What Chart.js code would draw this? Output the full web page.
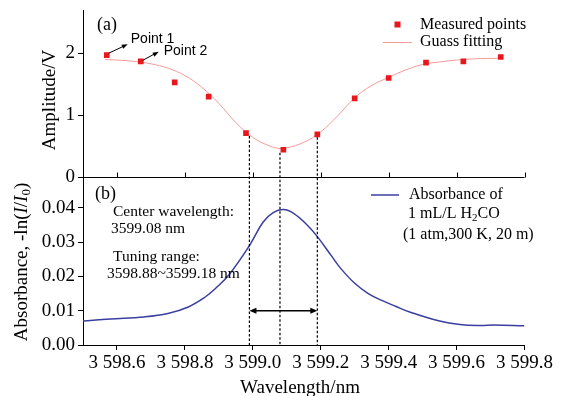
<!DOCTYPE html>
<html>
<head>
<meta charset="utf-8">
<script src="https://cdn.jsdelivr.net/npm/chart.js@4.4.0/dist/chart.umd.min.js"></script>
<style>
  html, body { margin: 0; padding: 0; background: #fff; }
</style>
</head>
<body>
<canvas id="chart" width="566" height="396"></canvas>
<script>
// (a) measured amplitude points
var measX = [3598.57, 3598.67, 3598.77, 3598.87, 3598.98, 3599.09, 3599.19, 3599.30, 3599.40, 3599.51, 3599.62, 3599.73];
var measAmp = [1.97, 1.87, 1.53, 1.30, 0.71, 0.44, 0.69, 1.27, 1.60, 1.85, 1.87, 1.94];

// (a) gauss fitting curve
var fitX = [3598.565, 3598.60, 3598.65, 3598.70, 3598.75, 3598.80, 3598.85, 3598.90, 3598.95, 3599.00, 3599.05, 3599.08, 3599.10, 3599.15, 3599.20, 3599.25, 3599.30, 3599.35, 3599.40, 3599.45, 3599.50, 3599.55, 3599.60, 3599.65, 3599.73];
var fitAmp = [1.90, 1.89, 1.87, 1.83, 1.76, 1.64, 1.45, 1.19, 0.88, 0.64, 0.50, 0.46, 0.47, 0.56, 0.73, 0.99, 1.28, 1.48, 1.61, 1.73, 1.82, 1.86, 1.89, 1.91, 1.92];

// (b) absorbance of H2CO
var absX = [3598.50, 3598.58, 3598.68, 3598.75, 3598.81, 3598.86, 3598.89, 3598.93, 3598.99, 3599.03, 3599.06, 3599.09, 3599.12, 3599.16, 3599.19, 3599.23, 3599.26, 3599.30, 3599.34, 3599.38, 3599.42, 3599.46, 3599.55, 3599.61, 3599.67, 3599.71, 3599.80];
var absVal = [0.0070, 0.0076, 0.0082, 0.0092, 0.0111, 0.0140, 0.0165, 0.0205, 0.0290, 0.0358, 0.0386, 0.0395, 0.0384, 0.0350, 0.0316, 0.0262, 0.0222, 0.0180, 0.0150, 0.0130, 0.0113, 0.0097, 0.0070, 0.0060, 0.0057, 0.0058, 0.0056];

// guide lines and tuning range arrow
var guideX = [3598.99, 3599.08, 3599.19];
var guideAmp = [0.71, 0.44, 0.69];
var rangeArrow = [3598.99, 3599.19];
var arrowLevel = 0.01;

// ticks
var xTicks = [3598.6, 3598.8, 3599.0, 3599.2, 3599.4, 3599.6, 3599.8];
var xTickLabels = ['3 598.6', '3 598.8', '3 599.0', '3 599.2', '3 599.4', '3 599.6', '3 599.8'];
var ampTicks = [0, 1, 2];
var ampTickLabels = ['0', '1', '2'];
var absTicks = [0, 0.01, 0.02, 0.03, 0.04];
var absTickLabels = ['0.00', '0.01', '0.02', '0.03', '0.04'];

var SERIF = "'Liberation Serif', 'Times New Roman', serif";
var SANS = "'Liberation Sans', Arial, sans-serif";

function pts(xs, ys) {
  return xs.map(function(x, i) { return {x: x, y: ys[i]}; });
}

function fixTicks(list) {
  return function(scale) {
    scale.ticks = list.map(function(v) { return {value: v}; });
  };
}

// text made of runs: [text, style] where style is '', 'i' or 'sub'
function drawRuns(ctx, runs, x, y, size, align) {
  var total = 0;
  runs.forEach(function(r) {
    ctx.font = fontOf(r[1], size);
    r.w = ctx.measureText(r[0]).width;
    total += r.w;
  });
  var cx = align === 'center' ? x - total / 2 : x;
  runs.forEach(function(r) {
    ctx.font = fontOf(r[1], size);
    ctx.fillText(r[0], cx, r[1] === 'sub' ? y + size * 0.25 : y);
    cx += r.w;
  });
}
function fontOf(style, size) {
  if (style === 'i') return 'italic ' + size + 'px ' + SERIF;
  if (style === 'sub') return Math.round(size * 0.68) + 'px ' + SERIF;
  return size + 'px ' + SERIF;
}

function arrowHead(ctx, x, y, dx, dy, len, half) {
  var l = Math.sqrt(dx * dx + dy * dy), ux = dx / l, uy = dy / l;
  ctx.beginPath();
  ctx.moveTo(x, y);
  ctx.lineTo(x - ux * len - uy * half, y - uy * len + ux * half);
  ctx.lineTo(x - ux * len + uy * half, y - uy * len - ux * half);
  ctx.closePath();
  ctx.fill();
}

var decor = {
  id: 'decor',
  afterDraw: function(chart) {
    var ctx = chart.ctx, xs = chart.scales.x, ya = chart.scales.yA, yb = chart.scales.yB;
    var area = chart.chartArea;
    ctx.save();
    ctx.strokeStyle = '#000';
    ctx.fillStyle = '#000';

    // bottom line of panel (a) with inward ticks
    var y0 = Math.round(ya.getPixelForValue(0)) + 0.5;
    ctx.lineWidth = 1;
    ctx.beginPath();
    ctx.moveTo(area.left, y0);
    ctx.lineTo(area.right, y0);
    xTicks.forEach(function(v) {
      var px = Math.round(xs.getPixelForValue(v)) + 0.5;
      ctx.moveTo(px, y0);
      ctx.lineTo(px, y0 - 5);
    });
    ctx.stroke();

    // dashed guides
    ctx.setLineDash([2.5, 2]);
    ctx.lineWidth = 1.2;
    guideX.forEach(function(v, i) {
      var px = xs.getPixelForValue(v);
      ctx.beginPath();
      ctx.moveTo(px, ya.getPixelForValue(guideAmp[i]) + 3);
      ctx.lineTo(px, yb.getPixelForValue(0));
      ctx.stroke();
    });
    ctx.setLineDash([]);

    // tuning range arrow
    var ay = yb.getPixelForValue(arrowLevel);
    var ax1 = xs.getPixelForValue(rangeArrow[0]), ax2 = xs.getPixelForValue(rangeArrow[1]);
    ctx.lineWidth = 1.5;
    ctx.beginPath();
    ctx.moveTo(ax1 + 4, ay);
    ctx.lineTo(ax2 - 4, ay);
    ctx.stroke();
    arrowHead(ctx, ax1, ay, -1, 0, 7, 3);
    arrowHead(ctx, ax2, ay, 1, 0, 7, 3);

    // Point 1 / Point 2 labels
    ctx.lineWidth = 1;
    var p1x = xs.getPixelForValue(measX[0]), p1y = ya.getPixelForValue(measAmp[0]);
    var p2x = xs.getPixelForValue(measX[1]), p2y = ya.getPixelForValue(measAmp[1]);
    ctx.beginPath();
    ctx.moveTo(p1x + 2, p1y - 2);
    ctx.lineTo(p1x + 17, p1y - 9);
    ctx.moveTo(p2x + 2, p2y - 1);
    ctx.lineTo(p2x + 14, p2y - 7.5);
    ctx.stroke();
    arrowHead(ctx, p1x + 21, p1y - 11, 15, -7, 6, 2.2);
    arrowHead(ctx, p2x + 18, p2y - 9.5, 12, -6.5, 6, 2.2);
    ctx.textBaseline = 'middle';
    ctx.textAlign = 'left';
    ctx.font = '14px ' + SANS;
    ctx.fillText('Point 1', p1x + 24, p1y - 16);
    ctx.fillText('Point 2', p2x + 23, p2y - 10);

    // panel labels
    ctx.font = '18px ' + SERIF;
    ctx.fillText('(a)', 97, 25);
    ctx.fillText('(b)', 95, 194);

    // notes in panel (b)
    ctx.font = '15.5px ' + SERIF;
    ctx.fillText('Center wavelength:', 113, 212);
    ctx.fillText('3599.08 nm', 111, 229);
    ctx.fillText('Tuning range:', 113, 257);
    ctx.fillText('3598.88~3599.18 nm', 107, 274);

    // legend of panel (a)
    ctx.fillStyle = '#e8161d';
    ctx.fillRect(394.5, 21.5, 6, 6);
    ctx.strokeStyle = '#f39a9a';
    ctx.beginPath();
    ctx.moveTo(383, 42.5);
    ctx.lineTo(412, 42.5);
    ctx.stroke();
    ctx.fillStyle = '#000';
    ctx.font = '16px ' + SERIF;
    ctx.fillText('Measured points', 420, 25);
    ctx.fillText('Guass fitting', 420, 42);

    // legend of panel (b)
    ctx.strokeStyle = '#3a3ea0';
    ctx.lineWidth = 1.5;
    ctx.beginPath();
    ctx.moveTo(371, 195);
    ctx.lineTo(399, 195);
    ctx.stroke();
    ctx.fillText('Absorbance of', 409, 195);
    drawRuns(ctx, [['1 mL/L H', ''], ['2', 'sub'], ['CO', '']], 408, 214, 16, 'left');
    ctx.font = '16px ' + SERIF;
    ctx.fillText('(1 atm,300 K, 20 m)', 403, 235);

    // axis titles
    ctx.font = '19px ' + SERIF;
    ctx.textAlign = 'center';
    ctx.fillText('Wavelength/nm', 300, 388);
    ctx.save();
    ctx.translate(50, 100);
    ctx.rotate(-Math.PI / 2);
    ctx.fillText('Amplitude/V', 0, 0);
    ctx.restore();
    ctx.save();
    ctx.translate(22, 262);
    ctx.rotate(-Math.PI / 2);
    ctx.textAlign = 'left';
    drawRuns(ctx, [['Absorbance, -ln(', ''], ['I', 'i'], ['/', ''], ['I', 'i'], ['0', 'sub'], [')', '']], 0, 0, 19, 'center');
    ctx.restore();

    ctx.restore();
  }
};

var axisGrid = {display: true, drawOnChartArea: false, drawTicks: true, tickLength: 5, color: '#000'};
var axisBorder = {display: true, color: '#000', width: 1};

new Chart(document.getElementById('chart'), {
  type: 'scatter',
  data: {
    datasets: [
      {
        label: 'Measured points',
        data: pts(measX, measAmp),
        yAxisID: 'yA',
        pointStyle: 'rect',
        pointRadius: 4,
        pointHoverRadius: 4,
        backgroundColor: '#e8161d',
        borderWidth: 0,
        order: 0
      },
      {
        label: 'Guass fitting',
        data: pts(fitX, fitAmp),
        yAxisID: 'yA',
        showLine: true,
        borderColor: '#f39a9a',
        borderWidth: 1,
        pointRadius: 0,
        tension: 0.4,
        order: 1
      },
      {
        label: 'Absorbance of 1 mL/L H2CO',
        data: pts(absX, absVal),
        yAxisID: 'yB',
        showLine: true,
        borderColor: '#3a3ea0',
        borderWidth: 1.5,
        pointRadius: 0,
        tension: 0.4,
        order: 2
      }
    ]
  },
  options: {
    responsive: false,
    animation: false,
    layout: {padding: {left: 0, top: 10, right: 41.5, bottom: 0}},
    plugins: {legend: {display: false}, tooltip: {enabled: false}},
    scales: {
      x: {
        type: 'linear',
        min: 3598.5,
        max: 3599.8,
        afterBuildTicks: fixTicks(xTicks),
        afterFit: function(s) { s.height = 51; s.paddingLeft = 0; s.paddingRight = 0; },
        grid: axisGrid,
        border: axisBorder,
        ticks: {
          color: '#000',
          font: {family: SERIF, size: 19},
          padding: 2,
          maxRotation: 0,
          autoSkip: false,
          callback: function(v, i) { return xTickLabels[i]; }
        }
      },
      yB: {
        type: 'linear',
        position: 'left',
        stack: 'panels',
        stackWeight: 168,
        weight: 0,
        min: 0,
        max: 0.049,
        afterBuildTicks: fixTicks(absTicks),
        afterFit: function(s) { s.width = 83; s.paddingTop = 0; s.paddingBottom = 0; },
        grid: axisGrid,
        border: axisBorder,
        ticks: {
          color: '#000',
          font: {family: SERIF, size: 19},
          padding: 3,
          autoSkip: false,
          callback: function(v, i) { return absTickLabels[i]; }
        }
      },
      yA: {
        type: 'linear',
        position: 'left',
        stack: 'panels',
        stackWeight: 167,
        weight: 1,
        min: 0,
        max: 2.7,
        afterBuildTicks: fixTicks(ampTicks),
        afterFit: function(s) { s.width = 83; s.paddingTop = 0; s.paddingBottom = 0; },
        grid: axisGrid,
        border: axisBorder,
        ticks: {
          color: '#000',
          font: {family: SERIF, size: 19},
          padding: 3,
          autoSkip: false,
          callback: function(v, i) { return ampTickLabels[i]; }
        }
      }
    }
  },
  plugins: [decor]
});
</script>
</body>
</html>
